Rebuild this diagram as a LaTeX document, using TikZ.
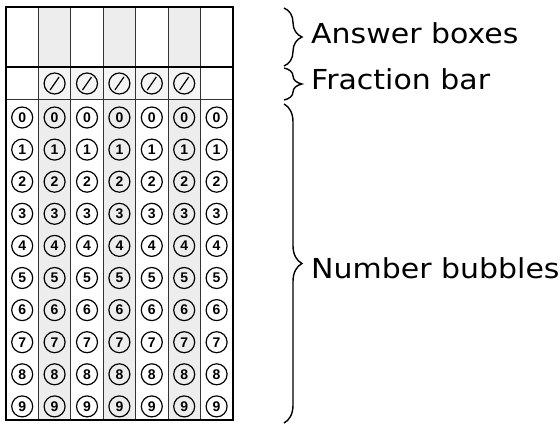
\documentclass[tikz,border=0pt]{standalone}
\usepackage{fontspec}
\setmainfont{DejaVu Sans}[FakeStretch=1.09]
\newfontfamily\digitfont{Liberation Sans}
\usetikzlibrary{decorations.pathreplacing,calc}
\definecolor{shadeA}{HTML}{EDEDED}
\definecolor{shadeB}{HTML}{F4F4F4}
\tikzset{
  bubble/.style={circle, draw, line width=1.2pt, minimum size=21pt, inner sep=0pt,
    font=\digitfont\bfseries\fontsize{14}{14}\selectfont},
  lbl/.style={anchor=base west, inner sep=0pt, font=\fontsize{27.5}{27.5}\selectfont},
  bracestyle/.style={decorate, decoration={brace, amplitude=18pt}, line width=1.4pt},
  thin/.style={line width=0.9pt, black!80},
}
\begin{document}
\begin{tikzpicture}[x=1pt, y=-1pt]
\useasboundingbox (0,0) rectangle (560,426);
% shading
\foreach \c in {1,3,5}{
  \fill[shadeA] (6+32.4*\c,7) rectangle (6+32.4*\c+32.4,67);
  \fill[shadeA] (6+32.4*\c,99) rectangle (6+32.4*\c+32.4,420);
}
\foreach \c in {1,...,5}{
  \fill[shadeB] (6+32.4*\c,67) rectangle (6+32.4*\c+32.4,99);
}
% column lines
\foreach \c in {1,...,6}{
  \draw[thin] (6+32.4*\c,7) -- (6+32.4*\c,420);
}
\draw[line width=1.8pt] (6,67) -- (233,67);
\draw[thin] (6,99) -- (233,99);
\draw[line width=2.2pt] (6,7) rectangle (233,420);
% fraction bubbles
\foreach \c in {1,...,5}{
  \node[bubble] (f\c) at (22.2+32.4*\c,83.5) {};
  \draw[line width=1.2pt] ($(f\c.center)+(-4.5,6.5)$) -- ($(f\c.center)+(4.5,-6.5)$);
}
% number bubbles
\foreach \c in {0,...,6}{
  \foreach \r in {0,...,9}{
    \node[bubble] (b\c\r) at (22.2+32.4*\c,117.5+32.1*\r) {\r};
  }
}
% labels
\node[lbl] (ans) at (311,43) {Answer boxes};
\node[lbl] (frac) at (311,89.5) {Fraction bar};
\node[lbl] (num) at (311,278) {Number bubbles};
% braces
\coordinate (a1) at (284,8);
\coordinate (a2) at (284,66);
\coordinate (c1) at (284,68);
\coordinate (c2) at (284,100);
\coordinate (n1) at (284,104);
\coordinate (n2) at (284,423);
\draw[bracestyle] (a1) -- (a2);
\draw[bracestyle] (c1) -- (c2);
\draw[bracestyle] (n1) -- (n2);
\end{tikzpicture}
\end{document}
